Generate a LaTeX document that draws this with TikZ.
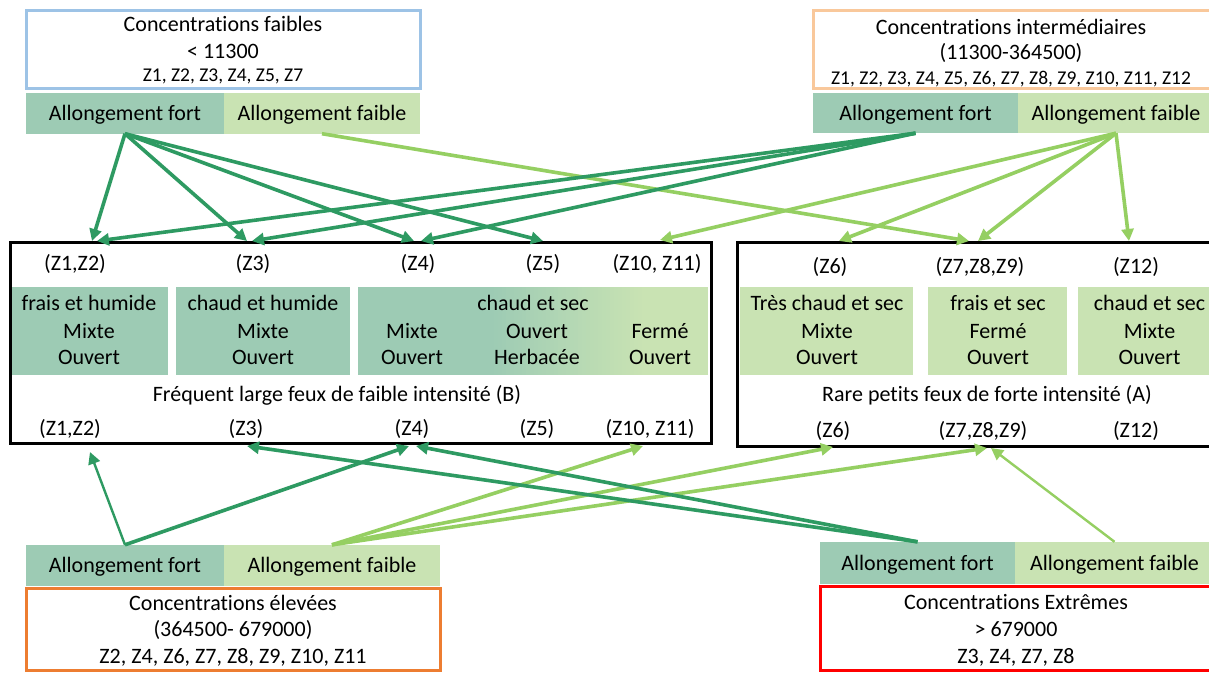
\documentclass[tikz,border=0pt]{standalone}
\usepackage{fontspec}
\setmainfont{Carlito}[Ligatures=NoCommon]
\usetikzlibrary{arrows.meta}
\definecolor{dk}{HTML}{9DCBB4}
\definecolor{lt}{HTML}{C9E3B3}
\definecolor{adk}{HTML}{2E9A62}
\definecolor{alt}{HTML}{95CF62}
\definecolor{bblue}{HTML}{9DC3E6}
\definecolor{bpeach}{HTML}{F9C89B}
\definecolor{borange}{HTML}{ED7D31}
\definecolor{bred}{HTML}{FF0000}
\begin{document}
\begin{tikzpicture}[x=1pt,y=-1pt,
  txt/.style={font=\fontsize{22}{26}\selectfont, anchor=base, inner sep=0pt},
  sml/.style={font=\fontsize{19.5}{23}\selectfont, anchor=base, inner sep=0pt},
  band/.style={rectangle, inner sep=0pt, font=\fontsize{22}{26}\selectfont, text height=17pt, text depth=3pt},
  cbox/.style={rectangle, inner sep=0pt, line width=3pt, fill=white},
  fbox/.style={rectangle, inner sep=0pt, line width=3pt, draw=black},
  panel/.style={rectangle, inner sep=0pt, minimum height=88pt},
  darr/.style={draw=adk, line width=3.6pt, -{Triangle[width=12pt,length=12pt]}},
  larr/.style={draw=alt, line width=3.6pt, -{Triangle[width=12pt,length=12pt]}},
  thin/.style={line width=2.4pt}
]
\useasboundingbox (0,0) rectangle (1209,673);
\clip (0,0) rectangle (1209,673);
\fill[white] (0,0) rectangle (1209,673);

% ---------- top-left ----------
\node[cbox, draw=bblue, minimum width=394pt, minimum height=78pt] (tlbox) at (223,49) {};
\node[txt] (tl1) at (223,31) {Concentrations faibles};
\node[txt] (tl2) at (223,58) {< 11300};
\node[sml] (tl3) at (223,81) {Z1, Z2, Z3, Z4, Z5, Z7};
\node[band, fill=dk, minimum width=198pt, minimum height=41pt] (tlF) at (125,113) {Allongement fort};
\node[band, fill=lt, minimum width=196pt, minimum height=41pt] (tlW) at (322,113) {Allongement faible};

% ---------- top-right ----------
\node[cbox, draw=bpeach, minimum width=401pt, minimum height=78pt] (trbox) at (1013.5,49) {};
\node[txt] (tr1) at (1011,34) {Concentrations intermédiaires};
\node[txt] (tr2) at (1011,59) {(11300-364500)};
\node[sml] (tr3) at (1011,84) {Z1, Z2, Z3, Z4, Z5, Z6, Z7, Z8, Z9, Z10, Z11, Z12};
\node[band, fill=dk, minimum width=205pt, minimum height=40pt] (trF) at (915.5,113) {Allongement fort};
\node[band, fill=lt, minimum width=196pt, minimum height=40pt] (trW) at (1116,113) {Allongement faible};

% ---------- middle-left box ----------
\node[panel, fill=dk, minimum width=156pt] (lp1) at (90,330.5) {};
\node[panel, fill=dk, minimum width=174pt] (lp2) at (263,330.5) {};
\fill[dk] (358,286.5) rectangle (491,374.5);
\foreach \i in {0,...,38} {
  \pgfmathsetmacro{\pc}{100-\i*100/38}
  \fill[dk!\pc!lt] ({490+\i*4},286.5) rectangle ({490+\i*4+4.6},374.5);
}
\fill[lt] (645,286.5) rectangle (708,374.5);
\node[fbox, minimum width=701pt, minimum height=201pt] (lbox) at (360.5,342.5) {};

\node[txt] (lt1) at (75,270) {(Z1,Z2)};
\node[txt] (lt3) at (253,270) {(Z3)};
\node[txt] (lt4) at (418,270) {(Z4)};
\node[txt] (lt5) at (543,270) {(Z5)};
\node[txt] (lt10) at (657,270) {(Z10, Z11)};

\node[txt] (p1a) at (89,310) {frais et humide};
\node[txt] (p1b) at (89,338) {Mixte};
\node[txt] (p1c) at (89,364) {Ouvert};
\node[txt] (p2a) at (263,310) {chaud et humide};
\node[txt] (p2b) at (263,338) {Mixte};
\node[txt] (p2c) at (263,364) {Ouvert};
\node[txt] (p3a) at (533,310) {chaud et sec};
\node[txt] (p3b) at (412,338) {Mixte};
\node[txt] (p3c) at (412,364) {Ouvert};
\node[txt] (p3d) at (537,338) {Ouvert};
\node[txt] (p3e) at (537,364) {Herbacée};
\node[txt] (p3f) at (660,338) {Fermé};
\node[txt] (p3g) at (660,364) {Ouvert};

\node[txt] (ltitle) at (337,401) {Fréquent large feux de faible intensité (B)};

\node[txt] (lb1) at (70,435) {(Z1,Z2)};
\node[txt] (lb3) at (246,435) {(Z3)};
\node[txt] (lb4) at (412,435) {(Z4)};
\node[txt] (lb5) at (537,435) {(Z5)};
\node[txt] (lb10) at (650,435) {(Z10, Z11)};

% ---------- middle-right box ----------
\node[panel, fill=lt, minimum width=173pt] (rp1) at (826.5,331) {};
\node[panel, fill=lt, minimum width=139pt] (rp2) at (997.5,331) {};
\node[panel, fill=lt, minimum width=136pt] (rp3) at (1146,331) {};
\node[fbox, minimum width=477pt, minimum height=204pt] (rbox) at (975.5,344) {};

\node[txt] (rt6) at (830,273) {(Z6)};
\node[txt] (rt7) at (980,273) {(Z7,Z8,Z9)};
\node[txt] (rt12) at (1136,273) {(Z12)};

\node[txt] (q1a) at (827,310) {Très chaud et sec};
\node[txt] (q1b) at (827,338) {Mixte};
\node[txt] (q1c) at (827,364) {Ouvert};
\node[txt] (q2a) at (998,310) {frais et sec};
\node[txt] (q2b) at (998,338) {Fermé};
\node[txt] (q2c) at (998,364) {Ouvert};
\node[txt] (q3a) at (1149.5,310) {chaud et sec};
\node[txt] (q3b) at (1149.5,338) {Mixte};
\node[txt] (q3c) at (1149.5,364) {Ouvert};

\node[txt] (rtitle) at (987,401) {Rare petits feux de forte intensité (A)};

\node[txt] (rb6) at (833,437) {(Z6)};
\node[txt] (rb7) at (983,437) {(Z7,Z8,Z9)};
\node[txt] (rb12) at (1136,437) {(Z12)};

% ---------- bottom-left ----------
\node[band, fill=dk, minimum width=198pt, minimum height=41pt] (blF) at (125,565.5) {Allongement fort};
\node[band, fill=lt, minimum width=216pt, minimum height=41pt] (blW) at (332,565.5) {Allongement faible};
\node[cbox, draw=borange, minimum width=414pt, minimum height=82pt] (blbox) at (233,629) {};
\node[txt] (bl1) at (233,610) {Concentrations élevées};
\node[txt] (bl2) at (233,636) {(364500- 679000)};
\node[txt] (bl3) at (233,663) {Z2, Z4, Z6, Z7, Z8, Z9, Z10, Z11};

% ---------- bottom-right ----------
\node[band, fill=dk, minimum width=195pt, minimum height=42pt] (brF) at (917.5,563) {Allongement fort};
\node[band, fill=lt, minimum width=199pt, minimum height=42pt] (brW) at (1114.5,563) {Allongement faible};
\node[cbox, draw=bred, minimum width=394pt, minimum height=84pt] (brbox) at (1017,628) {};
\node[txt] (br1) at (1016,609) {Concentrations Extrêmes};
\node[txt] (br2) at (1016,636) {> 679000};
\node[txt] (br3) at (1016,663) {Z3, Z4, Z7, Z8};

% ---------- arrow end points ----------
\coordinate (e1) at (92,241);
\coordinate (e2) at (247,241);
\coordinate (e3) at (414,241);
\coordinate (e4) at (543,241);
\coordinate (f1) at (97,241);
\coordinate (f2) at (252,241);
\coordinate (f3) at (421,241);
\coordinate (g1) at (969,241);
\coordinate (h1) at (660,240);
\coordinate (h2) at (839,241);
\coordinate (h3) at (978,241);
\coordinate (h4) at (1129,241);
\coordinate (k1) at (90,452);
\coordinate (k2) at (409,446);
\coordinate (m1) at (643,446);
\coordinate (m2) at (833,447);
\coordinate (m3) at (987,448);
\coordinate (n1) at (247,446);
\coordinate (n2) at (416,446);
\coordinate (o1) at (991,448);

% ---------- arrows ----------
\draw[darr] (tlF.south) -- (e1);
\draw[darr] (tlF.south) -- (e2);
\draw[darr] (tlF.south) -- (e3);
\draw[darr] (tlF.south) -- (e4);
\draw[larr] (tlW.south) -- (g1);
\draw[darr] (trF.south) -- (f1);
\draw[darr] (trF.south) -- (f2);
\draw[darr] (trF.south) -- (f3);
\draw[larr] (trW.south) -- (h1);
\draw[larr] (trW.south) -- (h2);
\draw[larr] (trW.south) -- (h3);
\draw[larr] (trW.south) -- (h4);

\draw[darr, thin] (blF.north) -- (k1);
\draw[darr] (blF.north) -- (k2);
\draw[larr] (blW.north) -- (m1);
\draw[larr] (blW.north) -- (m2);
\draw[larr] (blW.north) -- (m3);
\draw[darr] (brF.north) -- (n1);
\draw[darr] (brF.north) -- (n2);
\draw[larr, thin] (brW.north) -- (o1);
\end{tikzpicture}
\end{document}
